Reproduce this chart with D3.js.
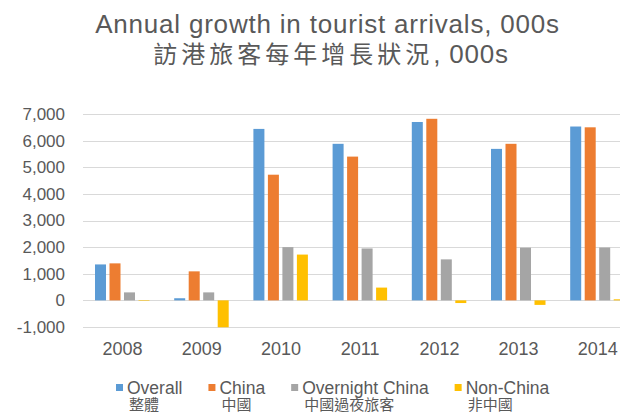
<!DOCTYPE html>
<html>
<head>
<meta charset="utf-8">
<script src="https://cdn.jsdelivr.net/npm/d3@7"></script>
<style>
  html, body { margin: 0; padding: 0; background: #ffffff; }
  svg { display: block; }
</style>
</head>
<body>
<div id="chart"></div>
<script>
// ---- Data ----
const years = ["2008", "2009", "2010", "2011", "2012", "2013", "2014"];
const seriesKeys = ["overall", "china", "overnight", "nonChina"];
const seriesEn = ["Overall", "China", "Overnight China", "Non-China"];
const seriesZh = ["整體", "中國", "中國過夜旅客", "非中國"];
const overall   = [1350,   80, 6440, 5880, 6700, 5690, 6530];
const china     = [1390, 1090, 4720, 5400, 6820, 5880, 6500];
const overnight = [ 300,  300, 2000, 1950, 1540, 1980, 1985];
const nonChina  = [ -20, -1010, 1720, 480, -100, -170,  40];
const yTicks = [-1000, 0, 1000, 2000, 3000, 4000, 5000, 6000, 7000];
const titleEn = "Annual growth in tourist arrivals, 000s";
const titleZhChars = "訪港旅客每年增長狀況";
const titleZhTail = ", 000s";

const colors = ["#5B9BD5", "#ED7D31", "#A5A5A5", "#FFC000"];
const valuesBySeries = [overall, china, overnight, nonChina];

const W = 620, H = 413;
const svg = d3.select("#chart").append("svg")
  .attr("width", W).attr("height", H)
  .style("background", "#fff");

const textColor = "#595959";
const latin = "'Liberation Sans', Arial, Helvetica, sans-serif";
const cjk = "'Noto Sans CJK TC', 'Noto Sans CJK SC', sans-serif";

// ---- Scales ----
const plotLeft = 83, step = 79.2;
const x = d3.scaleBand().domain(years)
  .range([plotLeft, plotLeft + step * years.length])
  .paddingInner(0).paddingOuter(0);
const xs = d3.scaleBand().domain(seriesKeys)
  .range([12, 66.5]).paddingInner(0.241).paddingOuter(0);
const y = d3.scaleLinear().domain([-1000, 7000]).range([327, 114]);

const fmt = d3.formatLocale({decimal: ".", thousands: ",", grouping: [3], currency: ["", ""], minus: "-"}).format(",");

// ---- Gridlines ----
svg.append("g").selectAll("line").data(yTicks).join("line")
  .attr("x1", plotLeft).attr("x2", W)
  .attr("y1", d => Math.round(y(d)) + 0.5).attr("y2", d => Math.round(y(d)) + 0.5)
  .attr("stroke", "#d9d9d9").attr("stroke-width", 1);

// ---- Y axis labels ----
const yAxis = d3.axisLeft(y).tickValues(yTicks).tickFormat(fmt).tickSize(0).tickPadding(18);
const gy = svg.append("g").attr("transform", `translate(${plotLeft},0)`).call(yAxis);
gy.select(".domain").remove();
gy.selectAll("text").attr("fill", textColor).style("font-family", latin).style("font-size", "17px");

// ---- Bars ----
const groups = svg.append("g").selectAll("g").data(years).join("g")
  .attr("transform", d => `translate(${x(d)},0)`);
groups.selectAll("rect")
  .data((yr, i) => seriesKeys.map((k, s) => ({k, s, v: valuesBySeries[s][i]})))
  .join("rect")
  .attr("x", d => xs(d.k))
  .attr("width", xs.bandwidth())
  .attr("y", d => y(Math.max(0, d.v)))
  .attr("height", d => Math.abs(y(d.v) - y(0)))
  .attr("fill", d => colors[d.s]);

// ---- X axis labels ----
const xAxis = d3.axisBottom(x).tickSize(0).tickPadding(0);
const gx = svg.append("g").attr("transform", `translate(0,355)`).call(xAxis);
gx.select(".domain").remove();
gx.selectAll("text").attr("fill", textColor).attr("dy", 0)
  .style("font-family", latin).style("font-size", "18px");

// ---- Title ----
svg.append("text").attr("x", 327.5).attr("y", 33).attr("text-anchor", "middle")
  .attr("fill", textColor).style("font-family", latin).style("font-size", "26px")
  .style("letter-spacing", "0.8px").text(titleEn);
const t2 = svg.append("text").attr("x", 331).attr("y", 63).attr("text-anchor", "middle")
  .attr("fill", textColor);
t2.append("tspan").style("font-family", cjk).style("font-size", "24px")
  .style("letter-spacing", "4px").text(titleZhChars);
t2.append("tspan").style("font-family", latin).style("font-size", "26px")
  .style("letter-spacing", "0.8px").text(titleZhTail);

// ---- Legend ----
const legend = svg.append("g");
let lx = 116;
seriesEn.forEach((name, i) => {
  const g = legend.append("g").attr("transform", `translate(${lx},0)`);
  g.append("rect").attr("x", 0).attr("y", 384).attr("width", 7).attr("height", 7).attr("fill", colors[i]);
  const t = g.append("text").attr("x", 11).attr("y", 394).attr("fill", textColor)
    .style("font-family", latin).style("font-size", "17.5px").text(name);
  g.append("text").attr("x", 13).attr("y", 410).attr("fill", textColor)
    .style("font-family", cjk).style("font-size", "15px").text(seriesZh[i]);
  lx += 11 + t.node().getComputedTextLength() + 26;
});
</script>
</body>
</html>
